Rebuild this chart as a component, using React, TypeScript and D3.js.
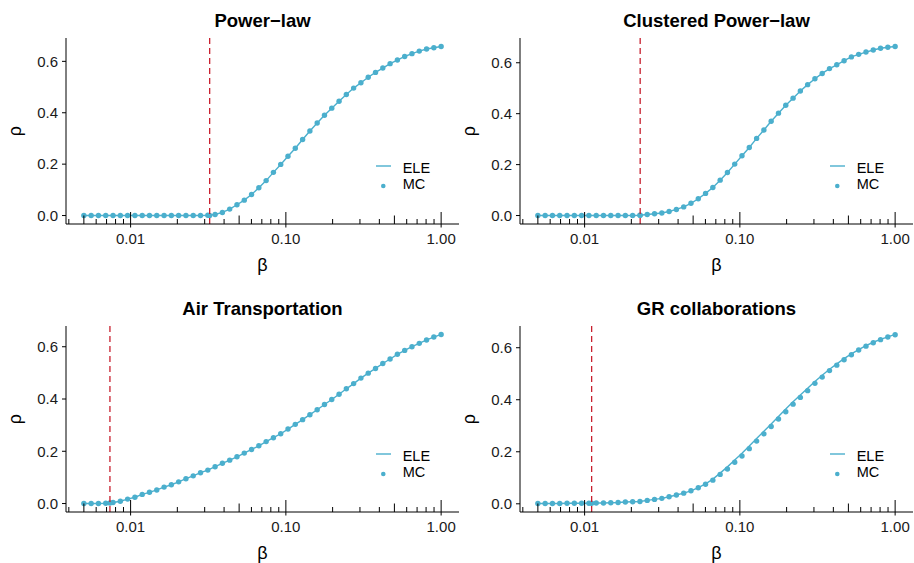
import React from "react";
import * as d3 from "d3";

// ---- data ----
const betaGrid = [
  0.005, 0.005571, 0.006207, 0.006916, 0.007706, 0.008586, 0.009566, 0.01066, 0.01188, 0.01323,
  0.01474, 0.01643, 0.0183, 0.02039, 0.02272, 0.02531, 0.0282, 0.03143, 0.03501, 0.03901,
  0.04347, 0.04843, 0.05396, 0.06012, 0.06699, 0.07464, 0.08316, 0.09266, 0.1032, 0.115,
  0.1282, 0.1428, 0.1591, 0.1773, 0.1975, 0.2201, 0.2452, 0.2732, 0.3044, 0.3391,
  0.3779, 0.421, 0.4691, 0.5227, 0.5824, 0.6489, 0.723, 0.8055, 0.8975, 1.0,
];

const mcPowerLaw = [
  0, 0, 0, 0, 0, 0, 0, 0, 0, 0,
  0, 0, 0, 0, 0, 0, 0, 0.001, 0.004, 0.012,
  0.025, 0.042, 0.06, 0.082, 0.108, 0.136, 0.168, 0.199, 0.231, 0.262,
  0.296, 0.329, 0.36, 0.39, 0.418, 0.445, 0.471, 0.496, 0.517, 0.538,
  0.557, 0.574, 0.591, 0.605, 0.619, 0.63, 0.64, 0.648, 0.653, 0.658,
];

const mcClustered = [
  0, 0, 0, 0, 0, 0, 0, 0, 0, 0,
  0, 0, 0, 0, 0.001, 0.004, 0.007, 0.01, 0.016, 0.024,
  0.034, 0.048, 0.066, 0.087, 0.11, 0.139, 0.169, 0.202, 0.235, 0.267,
  0.303, 0.336, 0.37, 0.402, 0.433, 0.461, 0.489, 0.514, 0.537, 0.558,
  0.577, 0.592, 0.608, 0.623, 0.633, 0.642, 0.65, 0.657, 0.661, 0.664,
];

const mcAir = [
  0, 0, 0, 0.001, 0.004, 0.009, 0.017, 0.024, 0.035, 0.043,
  0.052, 0.063, 0.072, 0.083, 0.095, 0.106, 0.118, 0.128, 0.141, 0.154,
  0.166, 0.179, 0.193, 0.207, 0.221, 0.237, 0.252, 0.267, 0.285, 0.303,
  0.321, 0.34, 0.359, 0.379, 0.398, 0.418, 0.439, 0.459, 0.48, 0.499,
  0.517, 0.536, 0.553, 0.571, 0.586, 0.6, 0.613, 0.626, 0.637, 0.647,
];

const mcGR = [
  0.001, 0.001, 0.001, 0.001, 0.002, 0.002, 0.002, 0.002, 0.003, 0.003,
  0.004, 0.005, 0.007, 0.008, 0.009, 0.013, 0.017, 0.021, 0.027, 0.034,
  0.041, 0.05, 0.062, 0.075, 0.091, 0.113, 0.134, 0.16, 0.184, 0.212,
  0.241, 0.269, 0.297, 0.326, 0.354, 0.383, 0.409, 0.435, 0.463, 0.487,
  0.512, 0.533, 0.554, 0.573, 0.591, 0.606, 0.619, 0.631, 0.641, 0.65,
];

const eleGR = [
  0.001, 0.001, 0.001, 0.001, 0.002, 0.002, 0.002, 0.002, 0.003, 0.003,
  0.004, 0.005, 0.007, 0.008, 0.009, 0.013, 0.017, 0.021, 0.027, 0.034,
  0.041, 0.05, 0.062, 0.077, 0.095, 0.118, 0.142, 0.168, 0.194, 0.222,
  0.251, 0.279, 0.307, 0.336, 0.364, 0.392, 0.418, 0.444, 0.47, 0.494,
  0.517, 0.538, 0.558, 0.576, 0.593, 0.608, 0.621, 0.632, 0.642, 0.651,
];

const panelTitles = ["Power\u2212law", "Clustered Power\u2212law", "Air Transportation", "GR collaborations"];
const thresholds = [0.0323, 0.0228, 0.00736, 0.0111];
const thresholdRho = [0.0, 0.001, 0.002, 0.002];
const yTicks = [0, 0.2, 0.4, 0.6];
const yTickLabels = ["0.0", "0.2", "0.4", "0.6"];
const xTickValues = [0.01, 0.1, 1];
const xTickLabels = ["0.01", "0.10", "1.00"];
const legendLabels = ["ELE", "MC"];

const mcSeries = [mcPowerLaw, mcClustered, mcAir, mcGR];
const eleSeries = [mcPowerLaw, mcClustered, mcAir, eleGR];

// ---- layout ----
const W = 914;
const H = 563;
const COL_OFF = [0, 454];
const ROW_OFF = [0, 288];
const PL = 66, PR = 459, PT = 38, PB = 224;
const COLOR = "#4BAFCD";
const RED = "#C8202F";
const FONT = "'Liberation Sans', Arial, Helvetica, sans-serif";

function Panel({ idx }: { idx: number }) {
  const dx = COL_OFF[idx % 2];
  const dy = ROW_OFF[Math.floor(idx / 2)];
  const left = PL + dx, right = PR + dx, top = PT + dy, bottom = PB + dy;

  const [bmin, bmax] = d3.extent(betaGrid) as [number, number];
  const lmin = Math.log10(bmin), lmax = Math.log10(bmax);
  const lr = lmax - lmin;
  const x = d3
    .scaleLog()
    .domain([Math.pow(10, lmin - 0.05 * lr), Math.pow(10, lmax + 0.05 * lr)])
    .range([left, right]);

  const mc = mcSeries[idx];
  const ele = eleSeries[idx];
  const [ymin, ymax] = d3.extent([...mc, ...ele]) as [number, number];
  const yr = ymax - ymin;
  const y = d3
    .scaleLinear()
    .domain([ymin - 0.05 * yr, ymax + 0.05 * yr])
    .range([bottom, top]);

  const [dmin, dmax] = x.domain();
  const logTicks: { v: number; len: number }[] = [];
  for (let e = -4; e <= 1; e++) {
    for (let k = 1; k <= 9; k++) {
      const v = k * Math.pow(10, e);
      if (v >= dmin && v <= dmax) {
        logTicks.push({ v, len: k === 1 ? 12 : k === 5 ? 8.5 : 5 });
      }
    }
  }

  const line = d3
    .line<number>()
    .x((_, i) => x(betaGrid[i]))
    .y((d) => y(d));

  const points = betaGrid.map((b, i) => ({ b, r: mc[i] }));
  points.push({ b: thresholds[idx], r: thresholdRho[idx] });

  const cx = (left + right) / 2;
  const cy = (top + bottom) / 2;
  const legX = left + 310;
  const legY = top + 128;

  return (
    <g>
      <text x={cx} y={dy + 27} textAnchor="middle" fontSize={18.5} fontWeight="bold" fill="#000">
        {panelTitles[idx]}
      </text>

      {/* ELE line */}
      <path d={line(ele) || ""} fill="none" stroke={COLOR} strokeWidth={1.4} />
      {/* MC points */}
      {points.map((p, i) => (
        <circle key={i} cx={x(p.b)} cy={y(p.r)} r={2.7} fill={COLOR} />
      ))}

      {/* threshold */}
      <line
        x1={x(thresholds[idx])}
        x2={x(thresholds[idx])}
        y1={top}
        y2={bottom}
        stroke={RED}
        strokeWidth={1.3}
        strokeDasharray="6,4"
      />

      {/* axes */}
      <line x1={left} x2={left} y1={top} y2={bottom} stroke="#000" strokeWidth={1} />
      <line x1={left} x2={right} y1={bottom} y2={bottom} stroke="#000" strokeWidth={1} />

      {yTicks.map((t, i) => (
        <g key={"y" + i}>
          <line x1={left - 4} x2={left} y1={y(t)} y2={y(t)} stroke="#000" strokeWidth={1} />
          <text x={left - 8} y={y(t) + 5.3} textAnchor="end" fontSize={15} fill="#1a1a1a">
            {yTickLabels[i]}
          </text>
        </g>
      ))}

      {logTicks.map((t, i) => (
        <line key={"l" + i} x1={x(t.v)} x2={x(t.v)} y1={bottom} y2={bottom - t.len} stroke="#000" strokeWidth={1} />
      ))}

      {xTickValues.map((t, i) => (
        <g key={"x" + i}>
          <line x1={x(t)} x2={x(t)} y1={bottom} y2={bottom + 3.5} stroke="#000" strokeWidth={1} />
          <text x={x(t)} y={bottom + 20} textAnchor="middle" fontSize={15} fill="#1a1a1a">
            {xTickLabels[i]}
          </text>
        </g>
      ))}

      {/* axis titles */}
      <text x={cx} y={bottom + 47} textAnchor="middle" fontSize={18} fill="#000">
        β
      </text>
      <text
        transform={`translate(${dx + 21},${cy}) rotate(-90)`}
        textAnchor="middle"
        fontSize={18}
        fill="#000"
      >
        ρ
      </text>

      {/* legend */}
      <line x1={legX} x2={legX + 15} y1={legY} y2={legY} stroke={COLOR} strokeWidth={1.4} />
      <text x={legX + 26.7} y={legY + 6.5} fontSize={14.5} fill="#000">
        {legendLabels[0]}
      </text>
      <circle cx={legX + 7.3} cy={legY + 20} r={2.3} fill={COLOR} />
      <text x={legX + 26.7} y={legY + 23} fontSize={14.5} fill="#000">
        {legendLabels[1]}
      </text>
    </g>
  );
}

export default function App() {
  return (
    <svg
      width={W}
      height={H}
      viewBox={`0 0 ${W} ${H}`}
      style={{ position: "absolute", left: 0, top: 0, background: "#fff", fontFamily: FONT }}
    >
      <rect width={W} height={H} fill="#fff" />
      {[0, 1, 2, 3].map((i) => (
        <Panel key={i} idx={i} />
      ))}
    </svg>
  );
}
